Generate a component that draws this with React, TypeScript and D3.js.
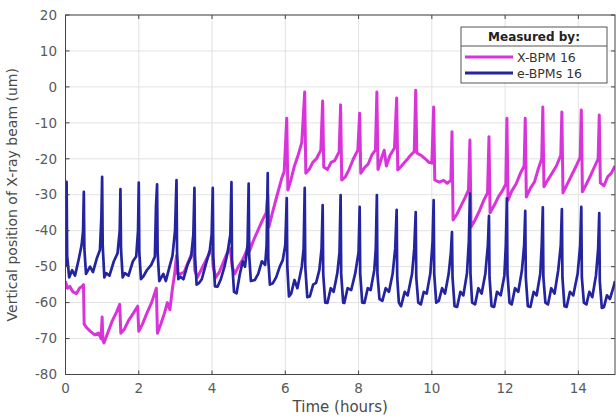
import React from "react";
import * as d3 from "d3";

// ---------- data ----------
const xTicks = [0, 2, 4, 6, 8, 10, 12, 14];
const yTicks = [-80, -70, -60, -50, -40, -30, -20, -10, 0, 10, 20];
const legendTitle = "Measured by:";
const seriesNames = ["X-BPM 16", "e-BPMs 16"];

// X-BPM 16 (magenta): [time (h), position (um)]
const xbpm: [number, number][] = [
  [0, -54], [0.05, -56], [0.12, -55.5], [0.2, -57], [0.3, -57.5], [0.38, -56], [0.45, -55.5], [0.49, -55],
  [0.51, -66], [0.58, -67], [0.68, -68], [0.8, -69], [0.9, -68.5], [0.97, -70], [1.0, -64], [1.02, -70.5],
  [1.05, -71.2], [1.15, -68.5], [1.28, -65], [1.4, -62.5], [1.48, -60.5],
  [1.51, -68.5], [1.6, -67.5], [1.72, -65], [1.85, -63], [1.97, -61],
  [2.0, -68], [2.1, -66], [2.22, -63], [2.35, -60], [2.48, -56],
  [2.51, -68.5], [2.6, -66], [2.7, -63], [2.78, -60], [2.85, -62], [2.92, -56], [2.98, -52],
  [3.03, -47], [3.06, -52], [3.14, -52], [3.24, -51.5], [3.34, -49], [3.44, -46.5], [3.5, -45],
  [3.53, -51], [3.6, -53], [3.7, -51], [3.82, -48.5], [3.92, -46.5], [4.0, -45],
  [4.03, -50], [4.1, -53], [4.2, -51.5], [4.3, -49], [4.42, -46], [4.5, -45],
  [4.55, -50], [4.62, -52], [4.72, -50], [4.84, -48], [4.95, -45.5], [5.0, -43], [5.03, -45.5],
  [5.12, -43], [5.25, -40], [5.38, -37], [5.48, -35],
  [5.52, -30], [5.55, -39], [5.65, -35], [5.78, -30], [5.9, -25.5], [5.97, -23.5],
  [6.04, -8.7], [6.07, -28.7], [6.15, -26], [6.25, -22], [6.35, -19], [6.45, -15.5],
  [6.53, -1.4], [6.56, -24], [6.65, -23], [6.75, -21], [6.85, -20], [6.97, -17.6],
  [7.02, -3.9], [7.05, -22.3], [7.15, -23], [7.25, -21], [7.35, -20.5], [7.47, -18],
  [7.51, -5], [7.54, -25.9], [7.64, -25], [7.74, -23], [7.86, -20], [7.98, -17.6],
  [8.03, -7.3], [8.06, -24], [8.16, -22.5], [8.26, -21.5], [8.36, -19], [8.46, -17.6],
  [8.5, -1.4], [8.53, -23], [8.62, -20], [8.7, -17.6], [8.76, -22], [8.86, -19], [8.98, -17],
  [9.04, -3.1], [9.07, -23.1], [9.17, -22], [9.3, -20.5], [9.42, -19], [9.52, -18],
  [9.56, -0.9], [9.59, -18.4], [9.7, -19], [9.82, -20], [9.92, -21], [10.0, -21.2],
  [10.05, -5.6], [10.08, -25.9], [10.2, -26.5], [10.32, -26], [10.42, -26.8], [10.52, -26],
  [10.55, -12.5], [10.58, -37], [10.68, -35.5], [10.8, -33], [10.92, -30.5], [11.0, -28.7],
  [11.04, -14.8], [11.07, -39], [11.18, -37], [11.3, -34.5], [11.42, -31.5], [11.52, -29.5],
  [11.56, -13.9], [11.59, -35], [11.7, -33], [11.82, -30.5], [11.92, -29], [12.02, -27],
  [12.05, -8.7], [12.08, -31.5], [12.18, -29], [12.3, -27], [12.42, -24], [12.52, -22],
  [12.55, -8.7], [12.58, -30.6], [12.7, -28], [12.8, -26.5], [12.9, -23], [13.0, -20],
  [13.03, -5.6], [13.06, -27.8], [13.16, -26], [13.28, -24], [13.4, -22], [13.52, -19],
  [13.55, -7], [13.58, -29.5], [13.7, -27], [13.82, -24.5], [13.94, -22], [14.05, -19.5],
  [14.08, -6.4], [14.11, -29.2], [14.22, -27], [14.34, -24.5], [14.45, -22], [14.54, -20],
  [14.57, -7.8], [14.6, -26.7], [14.7, -27.5], [14.8, -25], [14.9, -24], [15.0, -22],
];

// e-BPMs 16 (navy): [time (h), position (um)]
const ebpm: [number, number][] = [
  [0.0, -50], [0.02, -42], [0.03, -26.4], [0.045, -47], [0.1, -53], [0.18, -51], [0.26, -52.5], [0.36, -48], [0.44, -44], [0.48, -40],
  [0.5, -29.2], [0.515, -45], [0.56, -52], [0.67, -50], [0.75, -51.5], [0.86, -47.5], [0.94, -45.4], [0.98, -36],
  [1.0, -25], [1.015, -44], [1.06, -53], [1.11, -51.8], [1.2, -52.5], [1.32, -48.5], [1.42, -46.3], [1.48, -40],
  [1.5, -28.4], [1.515, -45], [1.56, -53], [1.62, -51.8], [1.72, -52.5], [1.84, -48.5], [1.93, -47.2], [1.98, -40],
  [2.0, -26.6], [2.015, -46], [2.06, -53.5], [2.12, -52.8], [2.22, -51], [2.34, -49.5], [2.44, -47.2], [2.47, -33.3],
  [2.5, -27.1], [2.515, -46], [2.56, -54], [2.67, -52], [2.74, -54], [2.84, -50], [2.92, -47], [2.99, -40],
  [3.03, -25.9], [3.045, -46], [3.08, -53.5], [3.14, -52.8], [3.22, -53.5], [3.33, -49.5], [3.43, -47.2], [3.49, -41],
  [3.52, -28.1], [3.535, -47], [3.58, -55], [3.64, -54.6], [3.72, -53.5], [3.84, -49], [3.94, -45.4], [3.99, -41],
  [4.02, -28.1], [4.035, -47], [4.08, -55.5], [4.15, -55.6], [4.24, -53.5], [4.34, -50], [4.42, -46.3], [4.5, -41],
  [4.53, -26.5], [4.545, -48], [4.6, -57], [4.67, -57.4], [4.76, -52], [4.84, -48.5], [4.9, -50], [4.97, -44],
  [5.0, -26.9], [5.015, -47], [5.06, -54], [5.17, -53.7], [5.26, -52], [5.36, -48.5], [5.45, -49.5], [5.49, -44],
  [5.52, -24], [5.535, -48], [5.58, -55], [5.66, -54.6], [5.75, -53], [5.85, -50], [5.93, -48.2], [6.0, -44],
  [6.04, -30.9], [6.055, -50], [6.1, -58.3], [6.16, -57.5], [6.25, -53.7], [6.33, -56], [6.45, -50], [6.5, -45],
  [6.53, -28.1], [6.545, -50], [6.6, -58.5], [6.67, -58.3], [6.76, -55], [6.84, -54.5], [6.93, -50.9], [6.99, -45],
  [7.02, -32.9], [7.035, -52], [7.09, -60], [7.15, -60.1], [7.24, -56], [7.32, -57], [7.42, -51.8], [7.48, -46],
  [7.51, -30.1], [7.525, -52], [7.58, -60], [7.61, -60.1], [7.7, -56], [7.8, -56.5], [7.91, -51.8], [8.0, -46],
  [8.03, -33.4], [8.045, -52], [8.1, -60], [8.16, -60.1], [8.25, -56], [8.33, -56.5], [8.43, -50.9], [8.47, -45],
  [8.5, -30.1], [8.515, -52], [8.57, -59], [8.65, -59.5], [8.74, -56], [8.83, -57], [8.93, -52], [9.0, -45],
  [9.04, -34.2], [9.055, -53], [9.1, -60], [9.16, -61], [9.26, -57], [9.34, -58], [9.46, -52], [9.52, -45],
  [9.56, -34.8], [9.575, -53], [9.63, -60], [9.7, -60.5], [9.78, -57], [9.86, -57.5], [9.96, -51.8], [10.02, -43],
  [10.05, -31.5], [10.065, -52], [10.12, -60], [10.19, -59.5], [10.28, -56], [10.36, -57.5], [10.46, -52], [10.52, -46],
  [10.55, -40.4], [10.565, -53], [10.62, -61], [10.69, -61.2], [10.78, -57], [10.86, -58], [10.96, -51.8], [11.01, -43],
  [11.04, -29.7], [11.055, -52], [11.1, -60], [11.18, -60.5], [11.27, -56], [11.36, -57.5], [11.46, -52], [11.53, -44],
  [11.56, -35.9], [11.575, -53], [11.63, -61], [11.7, -61.2], [11.78, -57], [11.88, -58], [11.98, -52.5], [12.02, -44],
  [12.05, -31], [12.065, -52], [12.12, -60], [12.18, -60.5], [12.27, -56], [12.36, -57], [12.46, -51], [12.52, -44],
  [12.55, -34.5], [12.565, -53], [12.62, -61], [12.69, -61.2], [12.78, -57], [12.86, -58], [12.96, -52], [13.0, -44],
  [13.03, -33.5], [13.045, -53], [13.1, -60], [13.17, -60.5], [13.26, -56], [13.35, -57.5], [13.45, -51], [13.52, -44],
  [13.55, -34], [13.565, -53], [13.62, -61], [13.68, -61.2], [13.77, -57], [13.86, -58], [13.98, -52], [14.05, -44],
  [14.08, -33.4], [14.095, -53], [14.15, -60], [14.22, -60.5], [14.3, -57], [14.38, -58.5], [14.48, -52.5], [14.54, -45],
  [14.57, -35.1], [14.585, -54], [14.64, -61.5], [14.7, -61.2], [14.78, -58], [14.86, -59], [14.95, -56], [15.0, -54],
];

// ---------- layout ----------
const W = 616;
const H = 418;
const left = 65.5;
const right = 615;
const top = 15;
const bottom = 374.5;
const FONT = "'DejaVu Sans', sans-serif";
const MAGENTA = "#d934d9";
const NAVY = "#2424a0";

export default function App() {
  const x = d3.scaleLinear().domain([0, 15]).range([left, right]);
  const y = d3.scaleLinear().domain([-80, 20]).range([bottom, top]);
  const line = d3
    .line<[number, number]>()
    .x((d) => x(d[0]))
    .y((d) => y(d[1]));

  return (
    <svg
      width={W}
      height={H}
      style={{ position: "absolute", left: 0, top: 0, background: "#fff" }}
      fontFamily={FONT}
    >
      <defs>
        <clipPath id="plotArea">
          <rect x={left} y={top} width={right - left} height={bottom - top} />
        </clipPath>
      </defs>
      <rect x={0} y={0} width={W} height={H} fill="#fff" />
      {/* grid */}
      {xTicks.map((t) => (
        <line key={"gx" + t} x1={x(t)} x2={x(t)} y1={top} y2={bottom} stroke="#e2e2e2" strokeWidth={1} />
      ))}
      {yTicks.map((t) => (
        <line key={"gy" + t} x1={left} x2={right} y1={y(t)} y2={y(t)} stroke="#e2e2e2" strokeWidth={1} />
      ))}
      {/* data */}
      <g clipPath="url(#plotArea)" fill="none" strokeLinejoin="round">
        <path d={line(xbpm) || ""} stroke={MAGENTA} strokeWidth={3} />
        <path d={line(ebpm) || ""} stroke={NAVY} strokeWidth={2.7} />
      </g>
      {/* frame */}
      <rect x={left} y={top} width={right - left} height={bottom - top} fill="none" stroke="#444" strokeWidth={1} />
      {/* ticks */}
      {xTicks.map((t) => (
        <g key={"tx" + t}>
          <line x1={x(t)} x2={x(t)} y1={bottom} y2={bottom - 4} stroke="#444" />
          <line x1={x(t)} x2={x(t)} y1={top} y2={top + 4} stroke="#444" />
          <text x={x(t)} y={393} textAnchor="middle" fontSize={13.5} fill="#5a5a5a">
            {t}
          </text>
        </g>
      ))}
      {yTicks.map((t) => (
        <g key={"ty" + t}>
          <line x1={left} x2={left + 4} y1={y(t)} y2={y(t)} stroke="#444" />
          <line x1={right} x2={right - 4} y1={y(t)} y2={y(t)} stroke="#444" />
          <text x={57} y={y(t)} dy="0.35em" textAnchor="end" fontSize={13.5} fill="#5a5a5a">
            {t}
          </text>
        </g>
      ))}
      {/* axis labels */}
      <text x={(left + right) / 2} y={412} textAnchor="middle" fontSize={15} fill="#4a4a4a">
        Time (hours)
      </text>
      <text
        transform={`translate(17,${(top + bottom) / 2}) rotate(-90)`}
        textAnchor="middle"
        fontSize={14}
        fill="#4a4a4a"
      >
        Vertical position of X-ray beam (um)
      </text>
      {/* legend */}
      <g>
        <rect x={461} y={27} width={146} height={56} fill="#fff" stroke="#555" strokeWidth={1} />
        <line x1={461} x2={607} y1={46} y2={46} stroke="#555" strokeWidth={1} />
        <text x={534} y={41} textAnchor="middle" fontSize={12} fontWeight="bold" fill="#222">
          {legendTitle}
        </text>
        <line x1={465} x2={513} y1={57} y2={57} stroke={MAGENTA} strokeWidth={3} />
        <line x1={465} x2={513} y1={73} y2={73} stroke={NAVY} strokeWidth={3} />
        <text x={517} y={61.5} fontSize={12.5} fill="#333">
          {seriesNames[0]}
        </text>
        <text x={517} y={77.5} fontSize={12.5} fill="#333">
          {seriesNames[1]}
        </text>
      </g>
    </svg>
  );
}
